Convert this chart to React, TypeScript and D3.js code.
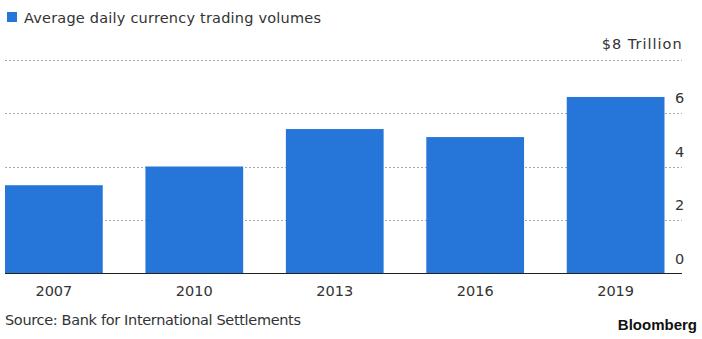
import React from "react";
import * as d3 from "d3";

const years = ["2007", "2010", "2013", "2016", "2019"];
const volumes = [3.3, 4.0, 5.4, 5.1, 6.6];
const ticks = [0, 2, 4, 6, 8];

const W = 702, H = 339;
const font = "'DejaVu Sans', Verdana, sans-serif";

export default function App() {
  const y = d3.scaleLinear().domain([0, 8]).range([273.5, 59.5]);
  const x = d3.scaleBand<string>().domain(years).range([5, 664.5]).paddingInner(0.304).paddingOuter(0);
  return (
    <svg width={W} height={H} style={{ position: "absolute", left: 0, top: 0 }} fontFamily={font}>
      <rect x={0} y={0} width={W} height={H} fill="#fff" />
      <rect x={7} y={12} width={10} height={10} fill="#2676d9" />
      <text x={24} y={23} fontSize={14.5} fill="#333" textLength={297}>Average daily currency trading volumes</text>
      {ticks.filter(t => t > 0).map(t => (
        <line key={t} x1={5} x2={682} y1={Math.round(y(t)) + 0.5} y2={Math.round(y(t)) + 0.5} stroke="#aaa" strokeDasharray="2,2" />
      ))}
      {volumes.map((v, i) => (
        <rect key={years[i]} x={x(years[i])} y={y(v)} width={x.bandwidth()} height={y(0) - y(v)} fill="#2676d9" />
      ))}
      <line x1={5} x2={682} y1={273.5} y2={273.5} stroke="#222" />
      {ticks.filter(t => t < 8).map(t => (
        <text key={t} x={675} y={y(t) - 10} fontSize={14.5} fill="#333">{t}</text>
      ))}
      <text x={601.7} y={49} fontSize={14.5} fill="#333" textLength={80}>$8 Trillion</text>
      {years.map(yr => (
        <text key={yr} x={(x(yr) as number) + x.bandwidth() / 2} y={296} fontSize={14.5} fill="#333" textAnchor="middle">{yr}</text>
      ))}
      <text x={5} y={325} fontSize={14.5} fill="#333" textLength={296}>Source: Bank for International Settlements</text>
      <text x={697} y={330} fontSize={15} fontWeight="bold" fill="#111" textAnchor="end" fontFamily="'Liberation Sans', Arial, sans-serif">Bloomberg</text>
    </svg>
  );
}
